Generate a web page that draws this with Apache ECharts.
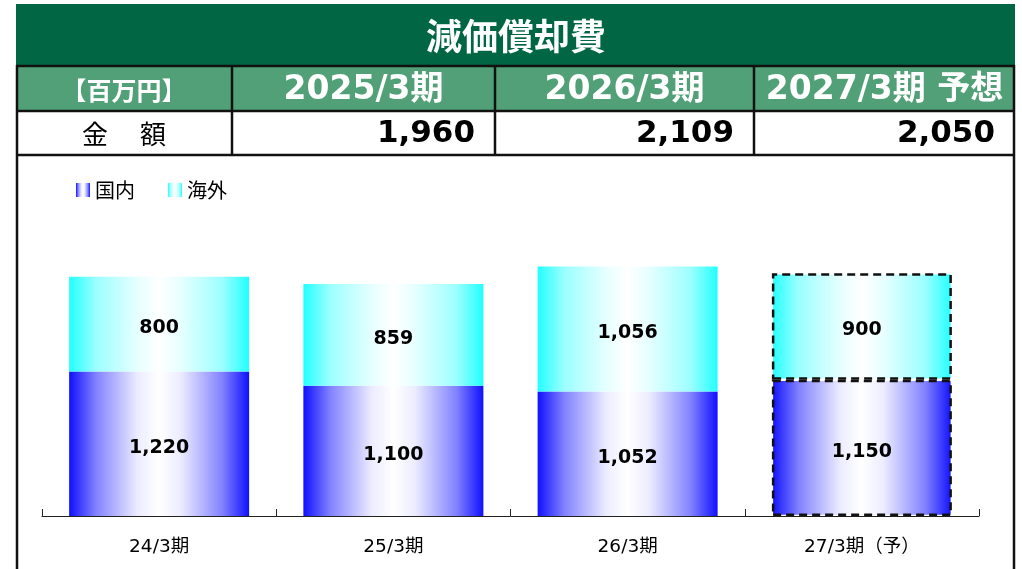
<!DOCTYPE html>
<html>
<head>
<meta charset="utf-8">
<script src="https://cdn.jsdelivr.net/npm/echarts@6/dist/echarts.min.js"></script>
<style>
html,body{margin:0;padding:0;background:#fff;}
#chart{width:1022px;height:569px;}
</style>
</head>
<body>
<div id="chart"></div>
<script>
// ---- data ----
const titleText = '減価償却費';
const unitLabel = '【百万円】';
const tableHeaders = ['2025/3期', '2026/3期', '2027/3期 予想'];
const rowLabel = '金　 額';
const tableValues = [1960, 2109, 2050];
const categories = ['24/3期', '25/3期', '26/3期', '27/3期（予）'];
const seriesNames = ['国内', '海外'];
const domestic = [1220, 1100, 1052, 1150];
const overseas = [800, 859, 1056, 900];
const forecastIndex = 3;

// ---- styling ----
const LATIN = '"DejaVu Sans", "Noto Sans CJK JP", sans-serif';
const CJK = '"Noto Sans CJK JP", "DejaVu Sans", sans-serif';
const fmt = v => Number(v).toLocaleString('en-US');

function hGrad(edge, mid, soft) {
  return new echarts.graphic.LinearGradient(0, 0, 1, 0, [
    {offset: 0, color: edge},
    {offset: 0.15, color: soft},
    {offset: 0.38, color: mid},
    {offset: 0.5, color: '#ffffff'},
    {offset: 0.62, color: mid},
    {offset: 0.85, color: soft},
    {offset: 1, color: edge}
  ]);
}
const blueGrad = hGrad('#1010ff', '#ececff', '#8282ff');
const cyanGrad = hGrad('#22ffff', '#e6ffff', '#9cffff');

const colX = [16, 232, 495, 754, 1015];
const graphics = [];
// title bar
graphics.push({type: 'rect', shape: {x: 16, y: 4, width: 999, height: 62}, style: {fill: '#006644'}, z: 10});
graphics.push({type: 'text', z: 11, style: {text: titleText, x: 516, y: 36, fill: '#fff', font: 'bold 36px ' + CJK, align: 'center', verticalAlign: 'middle'}});
// header row fill
graphics.push({type: 'rect', shape: {x: 16, y: 66, width: 999, height: 45}, style: {fill: '#52a077'}, z: 10});
// header row texts
graphics.push({type: 'text', z: 11, style: {text: unitLabel, x: (colX[0] + colX[1]) / 2, y: 90, fill: '#fff', font: 'bold 25px ' + CJK, align: 'center', verticalAlign: 'middle'}});
tableHeaders.forEach((h, i) => {
  graphics.push({type: 'text', z: 11, style: {text: h, x: (colX[i + 1] + colX[i + 2]) / 2, y: 90, fill: '#fff', font: 'bold 33px ' + LATIN, align: 'center', verticalAlign: 'middle'}});
});
// value row
graphics.push({type: 'text', z: 11, style: {text: rowLabel, x: (colX[0] + colX[1]) / 2, y: 134, fill: '#000', font: '26px ' + CJK, align: 'center', verticalAlign: 'middle'}});
tableValues.forEach((v, i) => {
  graphics.push({type: 'text', z: 11, style: {text: fmt(v), x: colX[i + 2] - 20, y: 134, fill: '#000', font: 'bold 31px ' + LATIN, align: 'right', verticalAlign: 'middle'}});
});
// grid lines of table
[66, 111, 155].forEach(y => {
  graphics.push({type: 'line', z: 12, shape: {x1: 16, y1: y, x2: 1015, y2: y}, style: {stroke: '#111', lineWidth: 2.5}});
});
[colX[1], colX[2], colX[3]].forEach(x => {
  graphics.push({type: 'line', z: 12, shape: {x1: x, y1: 66, x2: x, y2: 155}, style: {stroke: '#111', lineWidth: 2.5}});
});
// outer frame down to bottom
graphics.push({type: 'line', z: 12, shape: {x1: 17, y1: 65, x2: 17, y2: 569}, style: {stroke: '#111', lineWidth: 2.5}});
graphics.push({type: 'line', z: 12, shape: {x1: 1014, y1: 65, x2: 1014, y2: 569}, style: {stroke: '#111', lineWidth: 2.5}});

function seriesData(arr) {
  return arr.map((v, i) => i === forecastIndex
    ? {value: v, itemStyle: {borderColor: '#111', borderWidth: 2.5, borderType: [8, 5]}}
    : v);
}

const labelStyle = {
  show: true, position: 'inside', offset: [0, 4], color: '#000', fontSize: 19, fontWeight: 'bold',
  fontFamily: LATIN, formatter: p => fmt(p.value)
};

const chart = echarts.init(document.getElementById('chart'), null, {renderer: 'canvas'});
chart.setOption({
  animation: false,
  backgroundColor: '#fff',
  graphic: graphics,
  legend: {
    left: 71, top: 175, itemWidth: 14, itemHeight: 14, itemGap: 33, icon: 'rect',
    data: seriesNames,
    textStyle: {fontSize: 20, color: '#000', fontFamily: CJK}
  },
  grid: {left: 42, right: 43, top: 220, bottom: 53},
  xAxis: {
    type: 'category', data: categories,
    axisLine: {lineStyle: {color: '#222', width: 1}},
    axisTick: {show: true, inside: true, length: 7, lineStyle: {color: '#222'}},
    axisLabel: {fontSize: 18.5, color: '#000', margin: 22, fontFamily: LATIN}
  },
  yAxis: {type: 'value', min: 0, max: 2500, show: false, splitLine: {show: false}},
  series: [
    {name: seriesNames[0], type: 'bar', stack: 'total', barWidth: 180, data: seriesData(domestic),
     itemStyle: {color: blueGrad}, label: labelStyle},
    {name: seriesNames[1], type: 'bar', stack: 'total', barWidth: 180, data: seriesData(overseas),
     itemStyle: {color: cyanGrad}, label: labelStyle}
  ]
});
</script>
</body>
</html>
